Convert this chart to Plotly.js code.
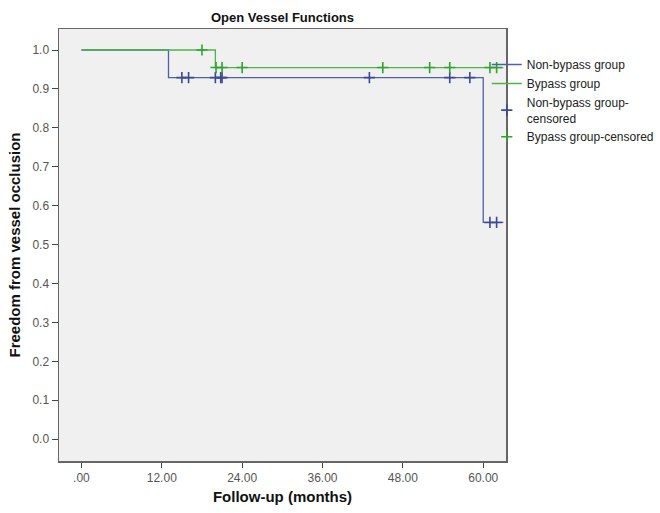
<!DOCTYPE html>
<html>
<head>
<meta charset="utf-8">
<script src="https://cdn.plot.ly/plotly-3.0.1.min.js"></script>
<style>html,body{margin:0;padding:0;background:#fff;}#chart{width:660px;height:513px;}</style>
</head>
<body>
<div id="chart"></div>
<script>
// Kaplan-Meier step data (months, survival)
const nonBypassTime = [0, 13, 60, 63];
const nonBypassSurv = [1.0, 0.929, 0.557, 0.557];
const bypassTime = [0, 20, 63];
const bypassSurv = [1.0, 0.955, 0.955];
// Censored observations
const nonBypassCensTime = [15, 16, 20, 20.8, 21, 43, 55, 58, 61, 62];
const nonBypassCensSurv = [0.929, 0.929, 0.929, 0.929, 0.929, 0.929, 0.929, 0.929, 0.557, 0.557];
const bypassCensTime = [18, 20.1, 21, 24, 45, 52, 55, 61, 62];
const bypassCensSurv = [1.0, 0.955, 0.955, 0.955, 0.955, 0.955, 0.955, 0.955, 0.955];
// Axis ticks
const xTickVals = [0, 12, 24, 36, 48, 60];
const xTickText = ['.00', '12.00', '24.00', '36.00', '48.00', '60.00'];
const yTickVals = [0, 0.1, 0.2, 0.3, 0.4, 0.5, 0.6, 0.7, 0.8, 0.9, 1.0];

const blue = '#4f5fae';
const blueDark = '#3a4898';
const green = '#4cb54a';
const greenDark = '#2fa32f';

const traces = [
  {x: nonBypassTime, y: nonBypassSurv, type: 'scatter', mode: 'lines', name: 'Non-bypass group',
   line: {color: blue, width: 1.3, shape: 'hv'}},
  {x: bypassTime, y: bypassSurv, type: 'scatter', mode: 'lines', name: 'Bypass group',
   line: {color: green, width: 1.3, shape: 'hv'}},
  {x: nonBypassCensTime, y: nonBypassCensSurv, type: 'scatter', mode: 'markers', name: 'Non-bypass group-<br>censored',
   marker: {symbol: 'cross-thin', size: 8, line: {color: blueDark, width: 1.6}}},
  {x: bypassCensTime, y: bypassCensSurv, type: 'scatter', mode: 'markers', name: 'Bypass group-censored',
   marker: {symbol: 'cross-thin', size: 8, line: {color: greenDark, width: 1.6}}}
];

const layout = {
  width: 660, height: 513,
  margin: {l: 59, r: 154, t: 29, b: 52, autoexpand: false},
  paper_bgcolor: '#ffffff',
  plot_bgcolor: '#eff0ef',
  font: {family: '"Liberation Sans", Arial, sans-serif', size: 12, color: '#333'},
  title: {text: '<b>Open Vessel Functions</b>', font: {size: 13, color: '#111'},
          x: 0.5, xref: 'paper', y: 1 - 17/513, yref: 'container', yanchor: 'middle'},
  showlegend: true,
  legend: {x: 0.957, xanchor: 'left', y: 1 - (50-29)/432, yanchor: 'top',
           bgcolor: 'rgba(0,0,0,0)', font: {size: 12, color: '#222'},
           tracegroupgap: 0, itemwidth: 30},
  xaxis: {range: [-3.35, 63.4], tickvals: xTickVals, ticktext: xTickText,
          ticks: 'outside', ticklen: 5, tickcolor: '#444', tickfont: {size: 12, color: '#555'},
          showgrid: false, zeroline: false, showline: true, linecolor: '#666', linewidth: 1.5, mirror: true,
          title: {text: '<b>Follow-up (months)</b>', font: {size: 15, color: '#111'}, standoff: 7}},
  yaxis: {range: [-0.056, 1.054], tickvals: yTickVals, tickformat: '.1f',
          ticks: 'outside', ticklen: 6, tickcolor: '#444', tickfont: {size: 12, color: '#555'},
          showgrid: false, zeroline: false, showline: true, linecolor: '#666', linewidth: 1.5, mirror: true,
          title: {text: '<b>Freedom from vessel occlusion</b>', font: {size: 15, color: '#111'}, standoff: 8}}
};

Plotly.newPlot('chart', traces, layout, {displayModeBar: false, staticPlot: true});
</script>
</body>
</html>
